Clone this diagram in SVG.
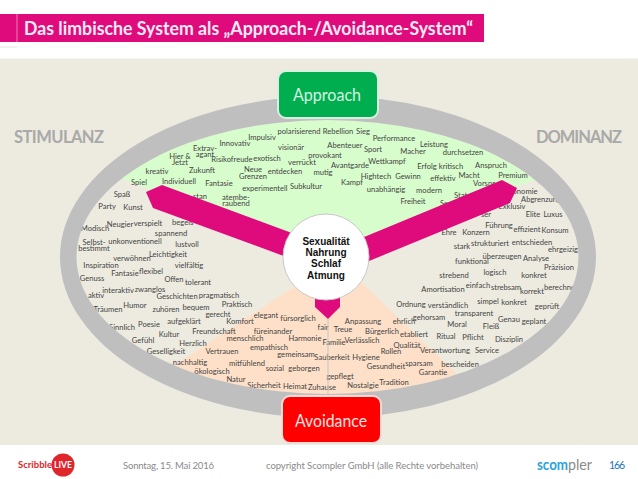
<svg xmlns="http://www.w3.org/2000/svg" width="638" height="479" viewBox="0 0 638 479">
<style>
.w{font:7.6px Lato,"Liberation Sans",sans-serif;fill:#444;text-anchor:middle}
.l{text-anchor:start}
.h{font:bold 16.5px Lato,"Liberation Sans",sans-serif;fill:#a9a9a9}
.c{font:bold 10px "Liberation Sans",Arial,sans-serif;fill:#111;text-anchor:middle}
.b{font:16.5px Lato,"Liberation Sans",sans-serif}
.f{font:9.5px Lato,"Liberation Sans",sans-serif;fill:#8a8a8a}
</style>
<defs><clipPath id="inner"><ellipse cx="327.5" cy="257" rx="251" ry="137"/></clipPath></defs>
<rect width="638" height="479" fill="#fff"/>
<rect x="0" y="14" width="484" height="28" fill="#df0a7c"/>
<line x1="17" y1="14" x2="17" y2="42" stroke="#f07ab5" stroke-width="1"/>
<line x1="0" y1="47" x2="17" y2="47" stroke="#e4e4e4"/>
<text x="24" y="34.500" textLength="449" lengthAdjust="spacingAndGlyphs" style="font:bold 18.5px Lato,'Liberation Sans',sans-serif;fill:#fbeaf3">Das limbische System als „Approach-/Avoidance-System“</text>
<rect x="0" y="58.5" width="638" height="386.5" fill="#edebe0"/>
<g clip-path="url(#inner)">
<polygon points="327,258 60,155 60,100 600,100 600,155" fill="#d8fdcc"/>
<polygon points="327,265 100,414 100,420 530,444 362,283" fill="#fee0c8"/>
</g>
<g id="words">
<text class="w" x="262" y="139.5">Impulsiv</text><text class="w" x="299" y="134">polarisierend</text><text class="w" x="291" y="150">visionär</text><text class="w" x="235" y="146">Innovativ</text><text class="w" x="205" y="151">Extrav-</text><text class="w" x="205" y="157">agant</text><text class="w" x="180" y="159">Hier &amp;</text><text class="w" x="180" y="165">Jetzt</text><text class="w" x="232" y="162">Risikofreude</text><text class="w" x="267" y="161">exotisch</text><text class="w" x="157" y="174">kreativ</text><text class="w" x="202" y="173">Zukunft</text><text class="w" x="253" y="172">Neue</text><text class="w" x="253" y="179">Grenzen</text><text class="w" x="285" y="174">entdecken</text><text class="w" x="139" y="185">Spiel</text><text class="w" x="179" y="184">Individuell</text><text class="w" x="219" y="186">Fantasie</text><text class="w" x="265" y="190.5">experimentell</text><text class="w" x="122" y="196.5">Spaß</text><text class="w" x="236" y="199.5">atembe-</text><text class="w" x="236" y="206">raubend</text><text class="w" x="200" y="198.5">stan</text>
<text class="w" x="338" y="133.5">Rebellion</text><text class="w" x="363" y="133.5">Sieg</text><text class="w" x="394" y="140.5">Performance</text><text class="w" x="345" y="147.5">Abenteuer</text><text class="w" x="373" y="151.5">Sport</text><text class="w" x="434" y="146.5">Leistung</text><text class="w" x="413" y="153.5">Macher</text><text class="w" x="463" y="154.5">durchsetzen</text><text class="w" x="325" y="157.5">provokant</text><text class="w" x="302" y="164.5">verrückt</text><text class="w" x="350" y="167.5">Avantgarde</text><text class="w" x="387" y="163.5">Wettkampf</text><text class="w" x="427" y="168.5">Erfolg</text><text class="w" x="451" y="168.5">kritisch</text><text class="w" x="491" y="167.5">Anspruch</text><text class="w" x="323" y="174.5">mutig</text><text class="w" x="376" y="178.5">Hightech</text><text class="w" x="408" y="178.5">Gewinn</text><text class="w" x="443" y="180.5">effektiv</text><text class="w" x="469" y="177.5">Macht</text><text class="w" x="513" y="177.5">Premium</text><text class="w l" x="473" y="185.5">Vorspr</text><text class="w" x="306" y="188.5">Subkultur</text><text class="w" x="352" y="184.5">Kampf</text><text class="w" x="386" y="191.5">unabhängig</text><text class="w" x="429" y="192.5">modern</text><text class="w" x="413" y="203.5">Freiheit</text><text class="w l" x="454" y="197.5">Stat</text><text class="w l" x="440" y="205.5">Se</text>
<text class="w" x="525" y="193.5">onomie</text><text class="w l" x="521" y="201.5">Abgrenzung</text><text class="w" x="512" y="208.5">Exklusiv</text><text class="w" x="533" y="216.5">Elite</text><text class="w" x="553" y="216.5">Luxus</text><text class="w" x="486" y="216.5">ser</text><text class="w" x="499" y="227.5">Führung</text><text class="w" x="527" y="231.5">effizient</text><text class="w" x="555" y="232.5">Konsum</text><text class="w" x="449" y="234.5">Ehre</text><text class="w" x="476" y="234.5">Konzern</text>
<text class="w" x="462" y="248.5">stark</text><text class="w" x="490" y="245.5">strukturiert</text><text class="w" x="532" y="244.5">entschieden</text><text class="w" x="563" y="251.5">ehrgeizig</text><text class="w" x="502" y="258.5">überzeugen</text><text class="w" x="472" y="263.5">funktional</text><text class="w" x="536" y="260.5">Analyse</text><text class="w" x="559" y="269.5">Präzision</text><text class="w" x="454" y="277.5">strebend</text><text class="w" x="495" y="274.5">logisch</text><text class="w" x="534" y="277.5">konkret</text><text class="w" x="443" y="291.5">Amortisation</text><text class="w" x="478" y="287.5">einfach</text><text class="w" x="506" y="289.5">strebsam</text><text class="w" x="532" y="293.5">korrekt</text><text class="w l" x="544" y="289.5">berechnen</text><text class="w" x="411" y="306.5">Ordnung</text><text class="w" x="448" y="307.5">verständlich</text><text class="w" x="488" y="303.5">simpel</text><text class="w" x="514" y="304.5">konkret</text><text class="w" x="547" y="308.5">geprüft</text><text class="w" x="429" y="319.5">gehorsam</text><text class="w" x="474" y="315.5">transparent</text><text class="w" x="404" y="323.5">ehrlich</text><text class="w" x="509" y="321.5">Genau</text><text class="w" x="534" y="323.5">geplant</text><text class="w" x="457" y="326.5">Moral</text><text class="w" x="491" y="328.5">Fleiß</text>
<text class="w" x="363" y="323.5">Anpassung</text><text class="w" x="323" y="329.5">fair</text><text class="w" x="343" y="331.5">Treue</text><text class="w" x="382" y="333.5">Bürgerlich</text><text class="w" x="414" y="336.5">etabliert</text><text class="w" x="446" y="338.5">Ritual</text><text class="w" x="473" y="339.5">Pflicht</text><text class="w" x="509" y="341.5">Disziplin</text><text class="w" x="334" y="344.5">Familie</text><text class="w" x="362" y="342.5">Verlässlich</text><text class="w" x="305" y="340.5">Harmonie</text><text class="w" x="407" y="347.5">Qualität</text><text class="w" x="391" y="353.5">Rollen</text><text class="w" x="445" y="352.5">Verantwortung</text><text class="w" x="487" y="352.5">Service</text><text class="w" x="332" y="359.5">Sauberkeit</text><text class="w" x="366" y="359.5">Hygiene</text><text class="w" x="296" y="356.5">gemeinsam</text><text class="w" x="386" y="368.5">Gesundheit</text><text class="w" x="419" y="365.5">sparsam</text><text class="w" x="460" y="366.5">bescheiden</text><text class="w" x="433" y="374.5">Garantie</text><text class="w" x="304" y="370.5">geborgen</text><text class="w" x="340" y="378.5">gepflegt</text><text class="w" x="363" y="387.5">Nostalgie</text><text class="w" x="394" y="384.5">Tradition</text><text class="w" x="295" y="388.5">Heimat</text><text class="w" x="322" y="389.5">Zuhause</text>
<text class="w" x="171" y="235.5">spannend</text><text class="w" x="94" y="244.5">Selbst-</text><text class="w" x="94" y="251">bestimmt</text><text class="w" x="135" y="243.5">unkonventionell</text><text class="w" x="187" y="246.5">lustvoll</text><text class="w" x="132" y="260.5">verwöhnen</text><text class="w" x="168" y="256.5">Leichtigkeit</text><text class="w" x="101" y="267.5">Inspiration</text><text class="w" x="189" y="267.5">vielfältig</text><text class="w" x="125" y="275.5">Fantasie</text><text class="w" x="151" y="274">flexibel</text><text class="w" x="92" y="280.5">Genuss</text><text class="w" x="174" y="281.5">Offen</text><text class="w" x="198" y="284.5">tolerant</text><text class="w" x="96" y="297.5">aktiv</text><text class="w" x="118" y="292.5">interaktiv</text><text class="w" x="150" y="291.5">zwanglos</text><text class="w" x="177" y="298.5">Geschichten</text><text class="w" x="219" y="297.5">pragmatisch</text><text class="w" x="108" y="311.5">Träumen</text><text class="w" x="135" y="307.5">Humor</text><text class="w" x="166" y="311.5">zuhören</text><text class="w" x="196" y="309.5">bequem</text><text class="w" x="237" y="306.5">Praktisch</text><text class="w" x="218" y="316.5">gerecht</text><text class="w" x="266" y="317.5">elegant</text><text class="w" x="298" y="320.5">fürsorglich</text><text class="w" x="240" y="323.5">Komfort</text><text class="w" x="184" y="323.5">aufgeklärt</text><text class="w" x="122" y="329.5">Sinnlich</text><text class="w" x="149" y="326.5">Poesie</text><text class="w" x="214" y="333.5">Freundschaft</text><text class="w" x="273" y="333.5">füreinander</text><text class="w" x="169" y="336.5">Kultur</text><text class="w" x="245" y="340.5">menschlich</text><text class="w" x="193" y="345.5">Herzlich</text><text class="w" x="143" y="342.5">Gefühl</text><text class="w" x="269" y="349.5">empathisch</text><text class="w" x="166" y="353.5">Geselligkeit</text><text class="w" x="222" y="353.5">Vertrauen</text><text class="w" x="190" y="364.5">nachhaltig</text><text class="w" x="247" y="365.5">mitfühlend</text><text class="w" x="275" y="370.5">sozial</text><text class="w" x="212" y="373.5">ökologisch</text><text class="w" x="236" y="381.5">Natur</text><text class="w" x="264" y="387.5">Sicherheit</text>
<text class="w" x="107" y="208.5">Party</text><text class="w" x="133" y="209.5">Kunst</text><text class="w" x="120" y="226.5">Neugier</text><text class="w" x="148" y="225.5">verspielt</text><text class="w l" x="172" y="224.5">begeis</text><text class="w" x="95" y="230.5">Modisch</text>
</g>
<path id="ring" fill="#bfbfbf" fill-rule="evenodd" d="M60 257a268 161 0 1 0 536 0a268 161 0 1 0 -536 0ZM76.500 257a251 137 0 1 0 502 0a251 137 0 1 0 -502 0Z"/>
<text class="h" x="14" y="143" textLength="90">STIMULANZ</text>
<text class="h" x="536" y="143" textLength="86">DOMINANZ</text>
<g id="connectors">
<line x1="328" y1="319" x2="328" y2="396" stroke="#c4c4c4" stroke-width="1"/>
<polygon points="146,192 162,185 300,236 300,262 153,208" fill="#df0a7c"/>
<polygon points="502,180 517,188 510,203 352,268 352,242" fill="#df0a7c"/>
<polygon points="315,290 340,290 340,307 328,319 315,307" fill="#df0a7c"/>
</g>
<g id="center">
<circle cx="326" cy="257" r="43" fill="#fff" stroke="#c8c8c8" stroke-width="1"/>
<text class="c" x="326" y="244.500">Sexualität</text><text class="c" x="326" y="256">Nahrung</text><text class="c" x="326" y="267">Schlaf</text><text class="c" x="326" y="279">Atmung</text>
</g>
<g id="approach"><rect x="278" y="71" width="100" height="47" rx="8" fill="#00ae50" stroke="#d8efe2" stroke-width="2"/><text class="b" x="293" y="101" textLength="68" lengthAdjust="spacingAndGlyphs" fill="#d6f2e0">Approach</text></g>
<g id="avoidance"><rect x="282" y="396" width="99" height="47" rx="8" fill="#fe0000" stroke="#f6dcd6" stroke-width="2"/><text class="b" x="295" y="427" textLength="72" lengthAdjust="spacingAndGlyphs" fill="#fbe3e0">Avoidance</text></g>
<g id="footer">
<text class="f" x="123" y="469" textLength="91">Sonntag, 15. Mai 2016</text>
<text class="f" x="266" y="469" textLength="212">copyright Scompler GmbH (alle Rechte vorbehalten)</text>
<text x="537" y="470" textLength="31" lengthAdjust="spacingAndGlyphs" style="font:bold 14.5px Lato,'Liberation Sans',sans-serif;fill:#2ba3dc">scom</text>
<text x="568" y="470" textLength="24" lengthAdjust="spacingAndGlyphs" style="font:14.5px Lato,'Liberation Sans',sans-serif;fill:#8a8a8a">pler</text>
<text x="609" y="469" textLength="16" style="font:10.500px Lato,'Liberation Sans',sans-serif;fill:#1b75bb">166</text>
<circle cx="63" cy="465" r="11.500" fill="#e0252b"/>
<text x="18" y="468" textLength="34" lengthAdjust="spacingAndGlyphs" style="font:bold 8.500px Lato,'Liberation Sans',sans-serif;fill:#e0252b">Scribble</text>
<text x="54" y="468" textLength="18" lengthAdjust="spacingAndGlyphs" style="font:bold 8.500px Lato,'Liberation Sans',sans-serif;fill:#fff">LIVE</text>
</g>
</svg>
